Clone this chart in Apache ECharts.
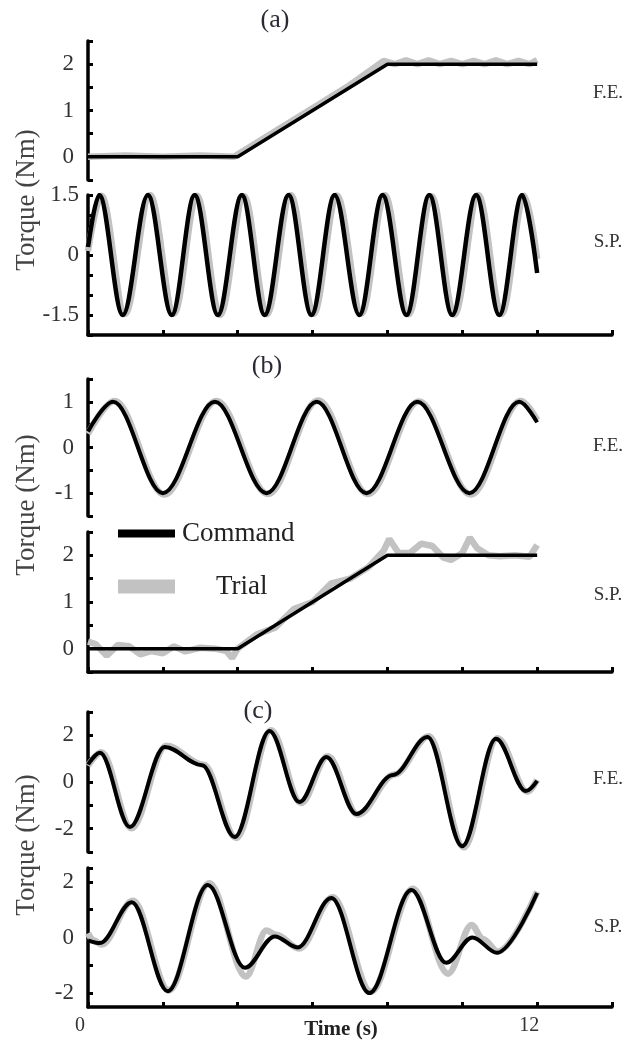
<!DOCTYPE html>
<html><head><meta charset="utf-8">
<script src="https://cdn.jsdelivr.net/npm/echarts@6/dist/echarts.min.js"></script>
<style>html,body{margin:0;padding:0;background:#fff}#c{width:639px;height:1050px}</style>
</head><body><div id="c"></div>
<script>
// ---------- DATA ----------
// (a) F.E.
var tCmdA1 = [0, 4, 8, 12];
var vCmdA1 = [0, 0, 2, 2];
var tTrialA1 = [0, 1, 2, 3, 3.9, 5, 6, 7, 7.9, 8.2, 8.5, 8.8, 9.1, 9.4, 9.7, 10, 10.3, 10.6, 10.9, 11.2, 11.5, 11.8, 12];
var vTrialA1 = [0, 0.03, 0, 0.03, 0, 0.55, 1.05, 1.55, 2.07, 2.0, 2.08, 2.0, 2.08, 2.0, 2.07, 2.0, 2.07, 2.0, 2.08, 2.0, 2.07, 2.0, 2.09];
// (a) S.P.
var tCmdA2 = [0, 0.3, 0.93, 1.6, 2.24, 2.85, 3.47, 4.11, 4.72, 5.36, 5.97, 6.59, 7.25, 7.87, 8.51, 9.12, 9.73, 10.37, 10.99, 11.6, 12];
var vCmdA2 = [0.2, 1.5, -1.5, 1.5, -1.5, 1.5, -1.5, 1.5, -1.5, 1.5, -1.5, 1.5, -1.5, 1.5, -1.5, 1.5, -1.5, 1.5, -1.5, 1.5, -0.45];
var tTrialA2 = [0, 0.36, 0.99, 1.66, 2.3, 2.91, 3.53, 4.17, 4.78, 5.42, 6.03, 6.65, 7.31, 7.93, 8.57, 9.18, 9.79, 10.43, 11.05, 11.66, 12];
var vTrialA2 = [0.1, 1.48, -1.47, 1.5, -1.46, 1.48, -1.5, 1.47, -1.48, 1.5, -1.47, 1.49, -1.46, 1.5, -1.48, 1.47, -1.49, 1.5, -1.47, 1.48, -0.1];
// (b) F.E.
var tCmdB1 = [0, 0.67, 2.0, 3.39, 4.77, 6.11, 7.44, 8.8, 10.19, 11.52, 12];
var vCmdB1 = [0.35, 1, -1, 1, -1, 1, -1, 1, -1, 1, 0.55];
var tTrialB1 = [0, 0.71, 2.04, 3.43, 4.81, 6.15, 7.48, 8.84, 10.23, 11.56, 12];
var vTrialB1 = [0.3, 1.02, -1.03, 1.02, -1.02, 1.03, -1.02, 1.01, -1.03, 1.02, 0.6];
// (b) S.P.
var tCmdB2 = [0, 4, 8, 12];
var vCmdB2 = [0, 0, 2, 2];
var tTrialB2 = [0, 0.2, 0.5, 0.8, 1.1, 1.4, 1.7, 2.0, 2.3, 2.6, 3.0, 3.4, 3.7, 3.85, 4.0, 4.5, 5.0, 5.5, 6.0, 6.5, 7.0, 7.5, 7.9, 8.05, 8.3, 8.6, 8.9, 9.2, 9.5, 9.7, 10.0, 10.2, 10.4, 10.7, 11.0, 11.4, 11.8, 12];
var vTrialB2 = [0.15, 0.1, -0.15, 0.08, 0.05, -0.12, -0.05, -0.1, 0.05, -0.06, 0.02, 0.0, -0.05, -0.2, 0.0, 0.3, 0.45, 0.85, 1.0, 1.4, 1.5, 1.75, 2.1, 2.35, 2.05, 2.05, 2.25, 2.2, 1.95, 1.9, 2.05, 2.38, 2.15, 2.0, 1.98, 2.0, 1.97, 2.22];
// (c) F.E.
var tCmdC1 = [0, 0.32, 1.12, 2.05, 3.05, 3.92, 4.85, 5.65, 6.37, 7.17, 8.15, 9.07, 10.0, 10.9, 11.7, 12];
var vCmdC1 = [0.75, 1.25, -1.93, 1.5, 0.72, -2.36, 2.19, -0.86, 1.07, -1.37, 0.3, 1.93, -2.75, 1.85, -0.39, 0.05];
var tTrialC1 = [0, 0.36, 1.16, 2.09, 3.09, 3.96, 4.89, 5.69, 6.41, 7.21, 8.19, 9.11, 10.04, 10.94, 11.74, 12];
var vTrialC1 = [0.7, 1.28, -1.98, 1.55, 0.74, -2.4, 2.22, -0.9, 1.1, -1.4, 0.32, 1.96, -2.8, 1.88, -0.42, 0.1];
// (c) S.P.
var tCmdC2 = [0, 0.32, 1.17, 2.13, 3.2, 4.19, 4.99, 5.6, 6.5, 7.52, 8.64, 9.57, 10.27, 10.93, 12];
var vCmdC2 = [-0.1, -0.2, 1.27, -1.93, 1.89, -1.09, 0.04, -0.36, 1.42, -2.0, 1.71, -0.91, 0.0, -0.55, 1.6];
var tTrialC2 = [0, 0.15, 0.36, 1.2, 2.16, 3.24, 4.22, 4.77, 5.03, 5.64, 6.54, 7.56, 8.68, 9.62, 10.25, 10.55, 10.95, 12];
var vTrialC2 = [0.15, -0.1, -0.25, 1.32, -1.9, 1.95, -1.4, 0.25, 0.1, -0.4, 1.45, -1.95, 1.75, -1.3, 0.45, -0.05, -0.5, 1.65];

// axis ticks / labels
var xTicks = [0, 2, 4, 6, 8, 10, 12, 14];
var xLabels = [0, 12];
var yTicksA1 = [-0.5, 0, 0.5, 1, 1.5, 2, 2.5], yLabelsA1 = [0, 1, 2];
var yTicksA2 = [-2, -1.5, -1, -0.5, 0, 0.5, 1, 1.5], yLabelsA2 = [-1.5, 0, 1.5];
var yTicksB1 = [-1.5, -1, -0.5, 0, 0.5, 1, 1.5], yLabelsB1 = [-1, 0, 1];
var yTicksB2 = [-0.5, 0, 0.5, 1, 1.5, 2, 2.5], yLabelsB2 = [0, 1, 2];
var yTicksC1 = [-3, -2, -1, 0, 1, 2, 3], yLabelsC1 = [-2, 0, 2];
var yTicksC2 = [-2, -1, 0, 1, 2, 2.5], yLabelsC2 = [-2, 0, 2];

var panelLabels = ['F.E.', 'S.P.', 'F.E.', 'S.P.', 'F.E.', 'S.P.'];
var partLabels = ['(a)', '(b)', '(c)'];
var yTitle = 'Torque (Nm)';
var xTitle = 'Time (s)';

// ---------- BUILD ----------
function zip(t, v) { return t.map(function (x, i) { return [x, v[i]]; }); }
var FONT = "'Liberation Serif','Times New Roman',serif";
var layout = [
  { top: 41, height: 139, min: -0.5, max: 2.5, ticks: yTicksA1, labels: yLabelsA1, xShow: false, margin: 14, smooth: false, w: 3.5, cmd: [tCmdA1, vCmdA1], trial: [tTrialA1, vTrialA1] },
  { top: 195, height: 140, min: -2, max: 1.5, ticks: yTicksA2, labels: yLabelsA2, xShow: true, margin: 9, smooth: true, w: 4.5, cmd: [tCmdA2, vCmdA2], trial: [tTrialA2, vTrialA2] },
  { top: 379, height: 137, min: -1.5, max: 1.5, ticks: yTicksB1, labels: yLabelsB1, xShow: false, margin: 14, smooth: true, w: 4, cmd: [tCmdB1, vCmdB1], trial: [tTrialB1, vTrialB1] },
  { top: 532, height: 140, min: -0.5, max: 2.5, ticks: yTicksB2, labels: yLabelsB2, xShow: true, margin: 14, smooth: false, w: 3.5, cmd: [tCmdB2, vCmdB2], trial: [tTrialB2, vTrialB2] },
  { top: 712, height: 140, min: -3, max: 3, ticks: yTicksC1, labels: yLabelsC1, xShow: false, margin: 14, smooth: true, w: 4, cmd: [tCmdC1, vCmdC1], trial: [tTrialC1, vTrialC1] },
  { top: 868, height: 139, min: -2.5, max: 2.5, ticks: yTicksC2, labels: yLabelsC2, xShow: true, margin: 14, smooth: true, w: 4, cmd: [tCmdC2, vCmdC2], trial: [tTrialC2, vTrialC2], xLab: true }
];

var grids = [], xAxes = [], yAxes = [], series = [];
layout.forEach(function (p, i) {
  grids.push({ left: 88, width: 524, top: p.top, height: p.height });
  xAxes.push({
    type: 'value', gridIndex: i, min: 0, max: 14, show: p.xShow,
    axisLine: { show: true, onZero: false, lineStyle: { color: '#000', width: 3.5, cap: 'round' } },
    axisTick: { show: true, inside: true, length: 5, lineStyle: { color: '#000', width: 3 }, customValues: xTicks },
    axisLabel: p.xLab ? { show: true, customValues: xLabels, margin: 9, padding: [0, 16, 0, 0], fontFamily: FONT, fontSize: 20, color: '#333' } : { show: false },
    splitLine: { show: false }
  });
  yAxes.push({
    type: 'value', gridIndex: i, min: p.min, max: p.max,
    axisLine: { show: true, onZero: false, lineStyle: { color: '#000', width: 3.5, cap: 'round' } },
    axisTick: { show: true, inside: true, length: 5, lineStyle: { color: '#000', width: 3 }, customValues: p.ticks },
    axisLabel: { show: true, customValues: p.labels, margin: p.margin, fontFamily: FONT, fontSize: 23, color: '#333' },
    splitLine: { show: false }
  });
  var common = { type: 'line', xAxisIndex: i, yAxisIndex: i, showSymbol: false, symbol: 'none', animation: false, silent: true };
  series.push(Object.assign({}, common, {
    name: 'Trial', data: zip(p.trial[0], p.trial[1]),
    smooth: p.smooth ? 0.35 : false, smoothMonotone: p.smooth ? 'x' : undefined,
    itemStyle: { color: '#c2c2c2' }, lineStyle: { color: '#c2c2c2', width: 6.5 }, z: 2
  }));
  series.push(Object.assign({}, common, {
    name: 'Command', data: zip(p.cmd[0], p.cmd[1]),
    smooth: p.smooth ? 0.35 : false, smoothMonotone: p.smooth ? 'x' : undefined,
    itemStyle: { color: '#000' }, lineStyle: { color: '#000', width: p.w }, z: 3
  }));
});

var sideY = [93, 242, 446, 595, 779, 927];
var partPos = [[275, 20], [267, 366], [258, 711]];
var torqueY = [200, 505, 845];
var graphics = [];
sideY.forEach(function (y, i) {
  graphics.push({ type: 'text', x: 608, y: y, style: { text: panelLabels[i], font: '19px ' + FONT, fill: '#333', align: 'center', verticalAlign: 'middle' } });
});
partPos.forEach(function (p, i) {
  graphics.push({ type: 'text', x: p[0], y: p[1], style: { text: partLabels[i], font: '26px ' + FONT, fill: '#2a2a35', align: 'center', verticalAlign: 'middle' } });
});
torqueY.forEach(function (y) {
  graphics.push({ type: 'text', x: 27, y: y, rotation: Math.PI / 2, style: { text: yTitle, font: '27px ' + FONT, fill: '#444', align: 'center', verticalAlign: 'middle' } });
});
graphics.push({ type: 'text', x: 341, y: 1030, style: { text: xTitle, font: 'bold 21px ' + FONT, fill: '#222', align: 'center', verticalAlign: 'middle' } });

var chart = echarts.init(document.getElementById('c'), null, { renderer: 'canvas' });
chart.setOption({
  animation: false,
  backgroundColor: '#fff',
  grid: grids, xAxis: xAxes, yAxis: yAxes, series: series,
  legend: [
    { data: ['Command'], left: 113, top: 515, orient: 'vertical', icon: 'rect', itemWidth: 57, itemHeight: 8, selectedMode: false,
      textStyle: { fontFamily: FONT, fontSize: 27, color: '#222', padding: [0, 0, 0, 2] } },
    { data: ['Trial'], left: 113, top: 568, orient: 'vertical', icon: 'rect', itemWidth: 57, itemHeight: 14, selectedMode: false,
      textStyle: { fontFamily: FONT, fontSize: 27, color: '#222', padding: [0, 0, 0, 36] } }
  ],
  graphic: graphics
});
</script></body></html>
